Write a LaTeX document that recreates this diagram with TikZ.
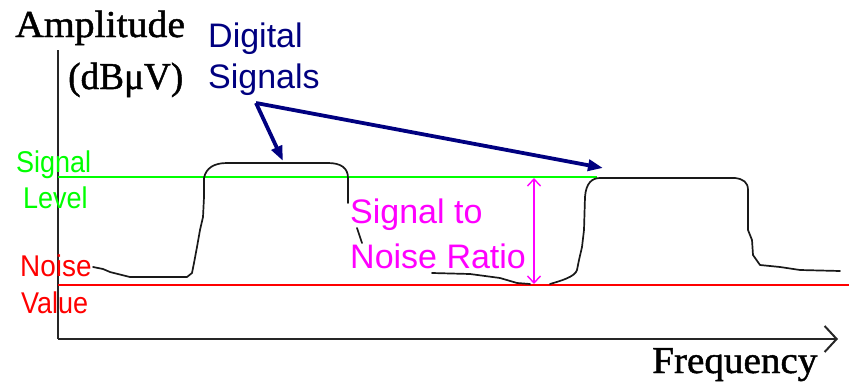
\documentclass[tikz,border=0pt]{standalone}
\usepackage{fontspec}
\setmainfont{Liberation Serif}
\newfontfamily\serifheavy[FakeBold=1.2]{Liberation Serif}
\newfontfamily\arialf{Liberation Sans}
\usetikzlibrary{arrows.meta}
\definecolor{navyc}{HTML}{000080}
\definecolor{grn}{HTML}{00FF00}
\definecolor{rd}{HTML}{FF0000}
\definecolor{mag}{HTML}{FF00FF}
\begin{document}
\begin{tikzpicture}[x=1pt,y=-1pt,
  seriflab/.style={font=\serifheavy\fontsize{38}{44}\selectfont, inner sep=0pt, anchor=base west},
  sansbig/.style={font=\arialf\fontsize{34}{40}\selectfont, inner sep=0pt, anchor=base west},
  sanssmall/.style={font=\arialf\fontsize{30}{36}\selectfont, inner sep=0pt, anchor=base west},
  axisline/.style={line width=2pt, black!85},
  curveline/.style={line width=1.7pt, black!90, line join=round, line cap=round},
  levelline/.style={line width=2pt},
  bluearrow/.style={line width=3.8pt, navyc, -{Triangle[length=15pt,width=11pt]}},
  snrarrow/.style={line width=1.4pt, mag, {Straight Barb[length=7pt,width=13pt]}-{Straight Barb[length=7pt,width=13pt]}}
]
\useasboundingbox (0,0) rectangle (849,383);

% axes
\coordinate (ytop) at (58,50);
\coordinate (orig) at (58,339);
\coordinate (xend) at (838,339);
\draw[axisline] (ytop) -- (orig);
\draw[axisline, -{Straight Barb[length=12pt,width=26pt]}] (orig) -- (xend);

% level lines
\coordinate (gl) at (58,177);
\coordinate (gr) at (597,177);
\coordinate (rl) at (58,285);
\coordinate (rr) at (849,285);
\draw[levelline, grn] (gl) -- (gr);
\draw[levelline, rd] (rl) -- (rr);

% signal curve (visible pieces)
\draw[curveline] (93,267) -- (103,269) -- (110,272) -- (118,274) -- (130,277) -- (187,277)
  -- (192,273) -- (194,263) -- (197,247) -- (200,230) -- (203,217) -- (204,197) -- (204,178)
  .. controls (206,168) and (214,163) .. (227,163) -- (328,163)
  .. controls (341,163) and (348,168) .. (348,178) -- (348,203);
\draw[curveline] (357,228) -- (362,243);
\draw[curveline] (432,273) -- (470,274) -- (500,278) -- (517,283) -- (530,284);
\draw[curveline] (550,284) .. controls (560,281) and (575,277) .. (577,270)
  -- (579,260) -- (582,247) -- (584,230) -- (585,197)
  .. controls (586,183) and (592,178) .. (600,178) -- (735,178)
  .. controls (743,179) and (748,182) .. (748,190) -- (748,230) -- (752,240) -- (753,255)
  -- (760,265) -- (780,267) -- (800,270) -- (840,271);

% SNR arrow
\coordinate (snrtop) at (534,178);
\coordinate (snrbot) at (534,284);
\draw[snrarrow] (snrtop) -- (snrbot);

% digital signal arrows
\coordinate (dsrc) at (256,103);
\coordinate (p1top) at (283,161);
\coordinate (p2top) at (603,168);
\draw[bluearrow] (dsrc) -- (p1top);
\draw[bluearrow] (dsrc) -- (p2top);

% labels
\node[seriflab] (amp) at (15,37) {\scalebox{1.045}[1]{Amplitude}};
\node[seriflab] (unit) at (68,89) {\scalebox{0.98}[1]{(dBμV)}};
\node[seriflab] (freq) at (652,373) {\scalebox{1.03}[1]{Frequency}};
\node[sansbig, navyc] (dig1) at (208,47) {Digital};
\node[sansbig, navyc] (dig2) at (208,88) {Signals};
\node[sanssmall, grn] (sig1) at (16,172) {\scalebox{0.9}[1]{Signal}};
\node[sanssmall, grn] (sig2) at (23,208) {\scalebox{0.9}[1]{Level}};
\node[sanssmall, rd] (noi1) at (20,276) {\scalebox{0.93}[1]{Noise}};
\node[sanssmall, rd] (noi2) at (21,313) {\scalebox{0.9}[1]{Value}};
\node[sansbig, mag] (snr1) at (350,223) {Signal to};
\node[sansbig, mag] (snr2) at (350,268) {Noise Ratio};
\end{tikzpicture}
\end{document}
